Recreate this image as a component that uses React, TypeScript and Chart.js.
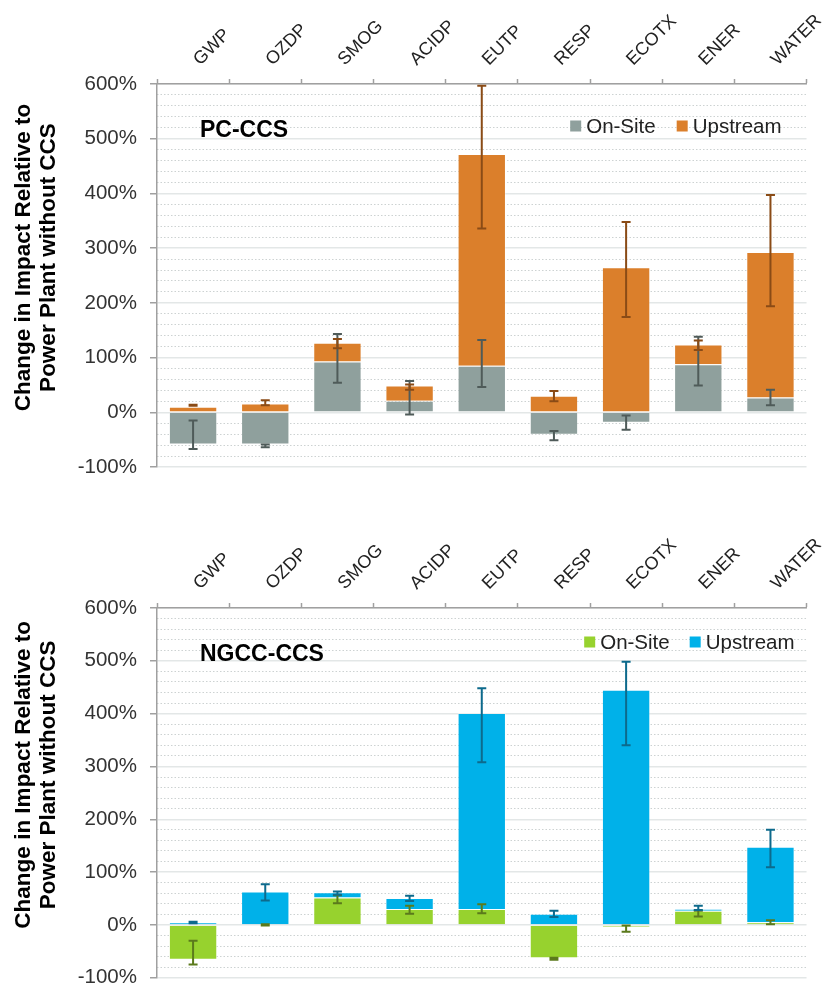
import React, { useEffect, useRef } from "react";
import { Chart, registerables } from "chart.js";

Chart.register(...registerables);

const FONT = "'Liberation Sans', Arial, Helvetica, sans-serif";

const categories = ["GWP", "OZDP", "SMOG", "ACIDP", "EUTP", "RESP", "ECOTX", "ENER", "WATER"];
const seriesLabels = ["On-Site", "Upstream"];
const yTitleLines = ["Change in Impact Relative to", "Power Plant without CCS"];

// PC-CCS (percent change)
const pcOnSite = [-59, -59, 93, 21, 85, -41, -19, 88, 27];
const pcUpstream = [10, 16, 34, 28, 387, 30, 265, 36, 266];
const pcOnSiteErrLow = [-67, -64, 54, -4, 46, -51, -32, 49, 13];
const pcOnSiteErrHigh = [-15, -59, 143, 57, 132, -34, -6, 138, 41];
const pcUpErrLow = [12, 13, 117, 41, 336, 20, 174, 114, 194];
const pcUpErrHigh = [14, 22, 134, 51, 597, 39, 348, 131, 397];

// NGCC-CCS (percent change)
const ngOnSite = [-66, 0, 52, 30, 30, -63, -5, 27, 5];
const ngUpstream = [5, 63, 10, 21, 371, 21, 445, 3, 143];
const ngOnSiteErrLow = [-75, -1, 41, 21, 22, -66, -13, 16, 1];
const ngOnSiteErrHigh = [-30, 1, 56, 36, 39, -62, -1, 27, 9];
const ngUpErrLow = [3, 46, 57, 45, 308, 15, 340, 28, 109];
const ngUpErrHigh = [6, 77, 63, 55, 448, 27, 498, 36, 180];

const yMin = -100;
const yMax = 600;
const yMajorStep = 100;
const yMinorStep = 20;

const AXIS = "#a0a0a0";

type PanelCfg = {
  title: string;
  onSite: number[];
  upstream: number[];
  errors: { lo: number[]; hi: number[]; color: string }[];
  colors: [string, string];
  height: number;
  topH: number;
  bottomPad: number;
  legendRight: number;
  legendDy: number;
  legendGap: number;
};

const panels: PanelCfg[] = [
  {
    title: "PC-CCS",
    onSite: pcOnSite,
    upstream: pcUpstream,
    errors: [
      { lo: pcOnSiteErrLow, hi: pcOnSiteErrHigh, color: "#4f5b59" },
      { lo: pcUpErrLow, hi: pcUpErrHigh, color: "#8a4b16" },
    ],
    colors: ["#8fa09d", "#db7f2b"],
    height: 500,
    topH: 84,
    bottomPad: 33,
    legendRight: 25,
    legendDy: 42,
    legendGap: 21,
  },
  {
    title: "NGCC-CCS",
    onSite: ngOnSite,
    upstream: ngUpstream,
    errors: [
      { lo: ngOnSiteErrLow, hi: ngOnSiteErrHigh, color: "#5b7a1c" },
      { lo: ngUpErrLow, hi: ngUpErrHigh, color: "#0d6a8c" },
    ],
    colors: ["#97d22e", "#00b1e9"],
    height: 503,
    topH: 108,
    bottomPad: 12,
    legendRight: 12,
    legendDy: 34,
    legendGap: 20,
  },
];

function makeOverlay(cfg: PanelCfg) {
  return {
    id: "overlay",
    afterDatasetsDraw(chart: any) {
      const { ctx } = chart;
      const yS = chart.scales.y;
      ctx.save();
      cfg.errors.forEach((e, d) => {
        const meta = chart.getDatasetMeta(d);
        ctx.strokeStyle = e.color;
        ctx.lineWidth = 2;
        meta.data.forEach((bar: any, j: number) => {
          const x = bar.x;
          const y1 = yS.getPixelForValue(e.lo[j]);
          const y2 = yS.getPixelForValue(e.hi[j]);
          ctx.beginPath();
          ctx.moveTo(x, y1);
          ctx.lineTo(x, y2);
          ctx.moveTo(x - 4.5, y1);
          ctx.lineTo(x + 4.5, y1);
          ctx.moveTo(x - 4.5, y2);
          ctx.lineTo(x + 4.5, y2);
          ctx.stroke();
        });
      });
      ctx.restore();
    },
    afterDraw(chart: any) {
      const { ctx, chartArea } = chart;
      ctx.save();
      // panel title
      ctx.fillStyle = "#000";
      ctx.font = `bold 23px ${FONT}`;
      ctx.textAlign = "left";
      ctx.textBaseline = "middle";
      ctx.fillText(cfg.title, chartArea.left + 43, chartArea.top + 47);
      // legend
      ctx.font = `20.5px ${FONT}`;
      const box = 11;
      const gapBT = 5;
      const items = chart.data.datasets.map((ds: any) => ({ label: ds.label, color: ds.backgroundColor }));
      const widths = items.map((it: any) => box + gapBT + ctx.measureText(it.label).width);
      const total = widths.reduce((a: number, b: number) => a + b, 0) + cfg.legendGap * (items.length - 1);
      let x = chartArea.right - cfg.legendRight - total;
      const y = chartArea.top + cfg.legendDy;
      items.forEach((it: any, i: number) => {
        ctx.fillStyle = it.color;
        ctx.fillRect(x, y - box / 2, box, box);
        ctx.fillStyle = "#222";
        ctx.fillText(it.label, x + box + gapBT, y + 1);
        x += widths[i] + cfg.legendGap;
      });
      // y-axis title
      ctx.font = `bold 22.5px ${FONT}`;
      ctx.fillStyle = "#000";
      ctx.textAlign = "center";
      const cy = (chartArea.top + chartArea.bottom) / 2 - 18;
      yTitleLines.forEach((line, i) => {
        ctx.save();
        ctx.translate(24 + i * 25, cy);
        ctx.rotate(-Math.PI / 2);
        ctx.fillText(line, 0, 0);
        ctx.restore();
      });
      ctx.restore();
    },
  };
}

function Panel({ cfg }: { cfg: PanelCfg }) {
  const ref = useRef<HTMLCanvasElement>(null);
  useEffect(() => {
    if (!ref.current) return;
    const chart = new Chart(ref.current, {
      type: "bar",
      data: {
        labels: categories,
        datasets: [
          {
            label: seriesLabels[0],
            data: cfg.onSite,
            backgroundColor: cfg.colors[0],
            borderColor: "rgba(255,255,255,0.35)",
            borderWidth: 1,
            yAxisID: "y",
            xAxisID: "x",
          },
          {
            label: seriesLabels[1],
            data: cfg.upstream,
            backgroundColor: cfg.colors[1],
            borderColor: "rgba(255,255,255,0.35)",
            borderWidth: 1,
            yAxisID: "y",
            xAxisID: "x",
          },
        ],
      },
      options: {
        animation: false,
        responsive: false,
        maintainAspectRatio: false,
        devicePixelRatio: 1,
        layout: { padding: { left: 0, right: 18, top: 0, bottom: cfg.bottomPad } },
        datasets: { bar: { categoryPercentage: 1, barPercentage: 0.67 } } as any,
        plugins: {
          legend: { display: false },
          tooltip: { enabled: false },
          title: { display: false },
        },
        scales: {
          x: {
            type: "category",
            position: "top",
            stacked: true,
            offset: true,
            grid: {
              offset: true,
              drawOnChartArea: false,
              drawTicks: true,
              tickLength: 5,
              tickColor: AXIS,
              tickWidth: 1.5,
            },
            border: { display: true, color: AXIS, width: 1.5 },
            ticks: {
              maxRotation: 45,
              minRotation: 45,
              autoSkip: false,
              color: "#222",
              font: { family: FONT, size: 18 },
              padding: 9,
              labelOffset: 19,
            },
            afterFit: (s: any) => {
              s.height = cfg.topH;
            },
          },
          yMinor: {
            type: "linear",
            position: "left",
            min: yMin,
            max: yMax,
            ticks: { display: false, stepSize: yMinorStep },
            grid: {
              drawTicks: false,
              lineWidth: 1,
              color: (c: any) =>
                c.tick && Math.round(c.tick.value) % yMajorStep === 0 ? "rgba(0,0,0,0)" : "#cdd2d2",
            },
            border: { display: false, dash: [1.5, 2] },
            afterFit: (s: any) => {
              s.width = 0;
            },
          },
          y: {
            type: "linear",
            position: "left",
            stacked: true,
            min: yMin,
            max: yMax,
            ticks: {
              stepSize: yMajorStep,
              callback: (v: any) => `${v}%`,
              color: "#333",
              font: { family: FONT, size: 20.5 },
              padding: 13,
            },
            grid: {
              color: "#e3e7e7",
              lineWidth: 1.5,
              tickLength: 7,
              tickColor: AXIS,
              tickWidth: 1.5,
            },
            border: { display: true, color: AXIS, width: 1.5 },
            afterFit: (s: any) => {
              s.width = 157;
            },
          },
        } as any,
      },
      plugins: [makeOverlay(cfg)],
    });
    return () => chart.destroy();
  }, [cfg]);
  return (
    <canvas
      ref={ref}
      width={825}
      height={cfg.height}
      style={{ display: "block", width: 825, height: cfg.height }}
    />
  );
}

export default function App() {
  return (
    <div style={{ position: "absolute", left: 0, top: 0, width: 825, height: 1003, background: "#fff" }}>
      {panels.map((p) => (
        <Panel key={p.title} cfg={p} />
      ))}
    </div>
  );
}
